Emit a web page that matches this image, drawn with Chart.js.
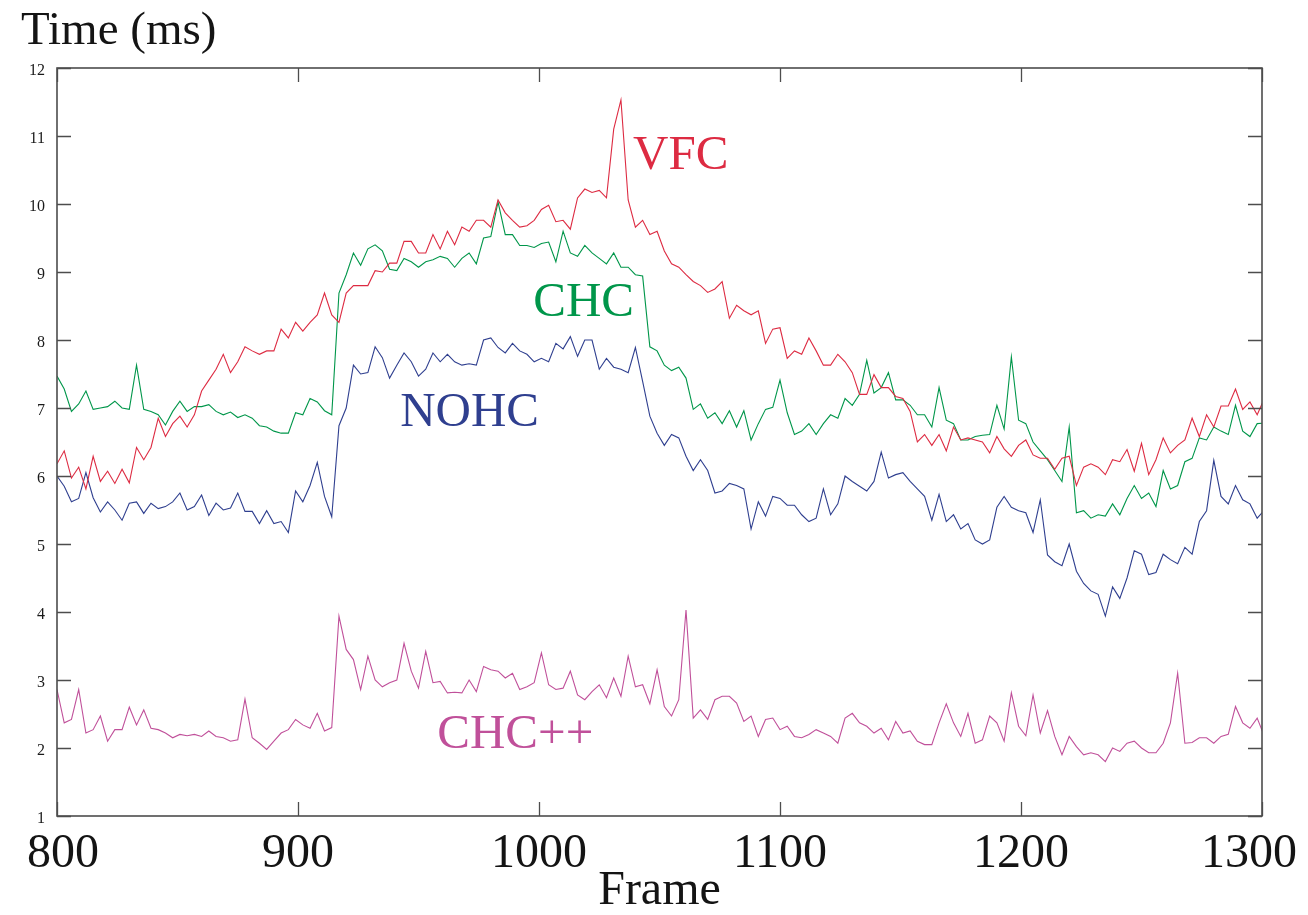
<!DOCTYPE html>
<html>
<head>
<meta charset="utf-8">
<title>Frame times</title>
<script src="https://cdn.jsdelivr.net/npm/chart.js@4.4.1/dist/chart.umd.min.js"></script>
<style>
  html, body { margin: 0; padding: 0; background: #ffffff; }
  #wrap { width: 1308px; height: 915px; position: relative; }
</style>
</head>
<body>
<div id="wrap"><canvas id="chart" width="1308" height="915"></canvas></div>
<script>
// Sampled frame range: one value every FRAME_STEP frames starting at FIRST_FRAME
const FIRST_FRAME = 800;
const FRAME_STEP = 3;

const xTicks = [800, 900, 1000, 1100, 1200, 1300];
const yTicks = [1, 2, 3, 4, 5, 6, 7, 8, 9, 10, 11, 12];

// Render time per frame (ms)
const vfc = [
  6.18, 6.37, 5.97, 6.13, 5.81, 6.29, 5.92, 6.07, 5.89, 6.10,
  5.90, 6.42, 6.24, 6.42, 6.85, 6.58, 6.77, 6.88, 6.72, 6.90,
  7.25, 7.41, 7.57, 7.79, 7.52, 7.68, 7.90, 7.84, 7.79, 7.84,
  7.84, 8.16, 8.03, 8.26, 8.13, 8.26, 8.37, 8.69, 8.37, 8.26,
  8.69, 8.80, 8.80, 8.80, 9.02, 9.00, 9.13, 9.13, 9.45, 9.45,
  9.28, 9.28, 9.55, 9.34, 9.60, 9.40, 9.66, 9.60, 9.76, 9.76,
  9.66, 10.06, 9.87, 9.76, 9.66, 9.68, 9.76, 9.92, 9.98, 9.74,
  9.76, 9.63, 10.09, 10.22, 10.17, 10.20, 10.09, 11.10, 11.53, 10.06,
  9.66, 9.76, 9.55, 9.60, 9.31, 9.12, 9.07, 8.96, 8.86, 8.80,
  8.70, 8.75, 8.86, 8.32, 8.51, 8.43, 8.37, 8.43, 7.95, 8.16,
  8.18, 7.73, 7.84, 7.79, 8.03, 7.84, 7.63, 7.63, 7.79, 7.68,
  7.52, 7.20, 7.20, 7.49, 7.30, 7.30, 7.17, 7.14, 6.95, 6.50,
  6.61, 6.45, 6.61, 6.37, 6.72, 6.53, 6.56, 6.53, 6.50, 6.34,
  6.58, 6.40, 6.29, 6.45, 6.53, 6.31, 6.26, 6.26, 6.10, 6.26,
  6.29, 5.86, 6.13, 6.18, 6.13, 6.02, 6.24, 6.21, 6.39, 6.07,
  6.48, 6.02, 6.24, 6.56, 6.34, 6.45, 6.53, 6.85, 6.58, 6.90,
  6.72, 7.03, 7.03, 7.28, 6.98, 7.09, 6.90, 7.14
];

const chc = [
  7.47, 7.28, 6.95, 7.06, 7.25, 6.98, 7.00, 7.02, 7.10, 7.00,
  6.98, 7.63, 6.98, 6.95, 6.90, 6.75, 6.95, 7.10, 6.95, 7.02,
  7.02, 7.05, 6.95, 6.90, 6.94, 6.86, 6.90, 6.85, 6.74, 6.72,
  6.66, 6.63, 6.63, 6.93, 6.90, 7.14, 7.09, 6.96, 6.90, 8.69,
  8.96, 9.28, 9.10, 9.34, 9.40, 9.31, 9.04, 9.02, 9.20, 9.15,
  9.07, 9.15, 9.18, 9.23, 9.20, 9.07, 9.20, 9.28, 9.12, 9.50,
  9.52, 10.03, 9.55, 9.55, 9.39, 9.39, 9.36, 9.42, 9.44, 9.15,
  9.60, 9.28, 9.23, 9.39, 9.28, 9.20, 9.12, 9.28, 9.07, 9.07,
  8.96, 8.94, 7.90, 7.84, 7.63, 7.55, 7.60, 7.44, 6.98, 7.06,
  6.85, 6.93, 6.77, 6.96, 6.72, 6.96, 6.53, 6.77, 6.98, 7.01,
  7.41, 6.93, 6.61, 6.66, 6.77, 6.61, 6.77, 6.90, 6.85, 7.14,
  7.04, 7.20, 7.70, 7.22, 7.30, 7.52, 7.12, 7.12, 7.04, 6.90,
  6.90, 6.72, 7.30, 6.82, 6.77, 6.53, 6.53, 6.58, 6.60, 6.61,
  7.04, 6.69, 7.75, 6.82, 6.77, 6.50, 6.37, 6.24, 6.08, 5.92,
  6.72, 5.46, 5.49, 5.38, 5.43, 5.41, 5.59, 5.43, 5.67, 5.86,
  5.67, 5.75, 5.55, 6.08, 5.81, 5.86, 6.21, 6.26, 6.56, 6.53,
  6.72, 6.66, 6.61, 7.04, 6.66, 6.58, 6.77, 6.78
];

const nohc = [
  6.00, 5.85, 5.62, 5.67, 6.05, 5.68, 5.47, 5.62, 5.50, 5.35,
  5.60, 5.62, 5.45, 5.60, 5.52, 5.55, 5.62, 5.75, 5.50, 5.55,
  5.72, 5.42, 5.60, 5.50, 5.53, 5.75, 5.48, 5.48, 5.30, 5.49,
  5.30, 5.33, 5.17, 5.78, 5.62, 5.86, 6.20, 5.70, 5.40, 6.74,
  7.00, 7.63, 7.50, 7.52, 7.90, 7.74, 7.44, 7.63, 7.81, 7.68,
  7.47, 7.57, 7.81, 7.68, 7.79, 7.68, 7.63, 7.65, 7.63, 8.00,
  8.03, 7.89, 7.81, 7.95, 7.84, 7.79, 7.68, 7.73, 7.68, 7.95,
  7.87, 8.05, 7.76, 8.00, 8.00, 7.57, 7.73, 7.60, 7.57, 7.52,
  7.89, 7.39, 6.88, 6.63, 6.45, 6.61, 6.56, 6.29, 6.08, 6.24,
  6.08, 5.75, 5.78, 5.89, 5.86, 5.81, 5.22, 5.62, 5.41, 5.70,
  5.67, 5.57, 5.57, 5.43, 5.33, 5.38, 5.81, 5.43, 5.59, 6.00,
  5.92, 5.85, 5.78, 5.92, 6.35, 5.97, 6.02, 6.05, 5.92, 5.81,
  5.70, 5.35, 5.73, 5.33, 5.43, 5.22, 5.30, 5.06, 5.00, 5.06,
  5.54, 5.70, 5.54, 5.49, 5.46, 5.17, 5.65, 4.84, 4.74, 4.68,
  5.00, 4.60, 4.42, 4.31, 4.26, 3.94, 4.37, 4.20, 4.50, 4.90,
  4.85, 4.55, 4.58, 4.85, 4.77, 4.71, 4.95, 4.85, 5.33, 5.49,
  6.23, 5.70, 5.59, 5.86, 5.65, 5.59, 5.38, 5.50
];

const chcpp = [
  2.86, 2.37, 2.42, 2.86, 2.22, 2.27, 2.47, 2.10, 2.27, 2.27,
  2.60, 2.34, 2.56, 2.29, 2.27, 2.22, 2.15, 2.20, 2.18, 2.20,
  2.17, 2.25, 2.17, 2.15, 2.10, 2.12, 2.72, 2.15, 2.07, 1.98,
  2.10, 2.22, 2.27, 2.42, 2.34, 2.29, 2.51, 2.25, 2.30, 3.94,
  3.45, 3.30, 2.86, 3.35, 3.00, 2.90, 2.96, 3.00, 3.54, 3.13,
  2.88, 3.42, 2.96, 2.98, 2.81, 2.82, 2.81, 3.00, 2.83, 3.20,
  3.15, 3.13, 3.03, 3.10, 2.86, 2.90, 2.96, 3.40, 2.93, 2.86,
  2.88, 3.13, 2.78, 2.71, 2.83, 2.93, 2.74, 3.03, 2.76, 3.35,
  2.90, 2.93, 2.65, 3.15, 2.61, 2.47, 2.71, 4.03, 2.44, 2.56,
  2.42, 2.71, 2.76, 2.76, 2.66, 2.39, 2.47, 2.17, 2.42, 2.44,
  2.27, 2.32, 2.17, 2.15, 2.20, 2.27, 2.22, 2.17, 2.07, 2.44,
  2.51, 2.37, 2.32, 2.22, 2.29, 2.12, 2.39, 2.22, 2.25, 2.10,
  2.05, 2.05, 2.37, 2.65, 2.37, 2.17, 2.51, 2.07, 2.12, 2.47,
  2.37, 2.10, 2.81, 2.32, 2.18, 2.78, 2.22, 2.55, 2.17, 1.90,
  2.17, 2.02, 1.90, 1.93, 1.90, 1.80, 2.00, 1.95, 2.07, 2.10,
  2.00, 1.93, 1.93, 2.07, 2.37, 3.10, 2.07, 2.08, 2.15, 2.15,
  2.07, 2.17, 2.20, 2.61, 2.37, 2.29, 2.44, 2.17
];

const SERIF = '"Liberation Serif", "Times New Roman", "DejaVu Serif", serif';

const COLORS = {
  vfc: '#dd2b42',
  chc: '#00964a',
  nohc: '#2f3f8f',
  chcpp: '#c0509a'
};

// In-plot series names, anchored in data coordinates (frame, ms)
const seriesNames = [
  { text: 'VFC',   color: COLORS.vfc,   frame: 1039.0, ms: 10.52 },
  { text: 'CHC',   color: COLORS.chc,   frame: 997.6,  ms: 8.35 },
  { text: 'NOHC',  color: COLORS.nohc,  frame: 942.4,  ms: 6.74 },
  { text: 'CHC++', color: COLORS.chcpp, frame: 957.8,  ms: 2.00 }
];

function toPoints(values) {
  return values.map((v, i) => ({ x: FIRST_FRAME + i * FRAME_STEP, y: v }));
}

function lineSet(label, values, color) {
  return {
    label: label,
    data: toPoints(values),
    borderColor: color,
    backgroundColor: color,
    borderWidth: 1.1,
    pointRadius: 0,
    pointHoverRadius: 0,
    tension: 0,
    fill: false
  };
}

// Box frame, inward tick marks on all four sides, and the large serif texts
const frameDecor = {
  id: 'frameDecor',
  afterDraw(chart) {
    const { ctx, chartArea: a, scales: { x, y } } = chart;
    ctx.save();

    ctx.strokeStyle = '#4d4d4d';
    ctx.lineWidth = 1.6;
    ctx.strokeRect(a.left, a.top, a.right - a.left, a.bottom - a.top);

    ctx.lineWidth = 1.3;
    ctx.beginPath();
    xTicks.forEach(v => {
      const px = Math.round(x.getPixelForValue(v)) + 0.5;
      ctx.moveTo(px, a.bottom); ctx.lineTo(px, a.bottom - 14);
      ctx.moveTo(px, a.top);    ctx.lineTo(px, a.top + 14);
    });
    yTicks.forEach(v => {
      const py = Math.round(y.getPixelForValue(v)) + 0.5;
      ctx.moveTo(a.left, py);  ctx.lineTo(a.left + 14, py);
      ctx.moveTo(a.right, py); ctx.lineTo(a.right - 14, py);
    });
    ctx.stroke();

    // frame-number labels under the axis, kept inside the figure edges
    ctx.fillStyle = '#141414';
    ctx.textBaseline = 'alphabetic';
    ctx.textAlign = 'left';
    ctx.font = '48px ' + SERIF;
    xTicks.forEach(v => {
      const label = String(v);
      const w = ctx.measureText(label).width;
      let left = x.getPixelForValue(v) - w / 2;
      left = Math.max(27, Math.min(left, chart.width - 11 - w));
      ctx.fillText(label, left, 867);
    });

    // axis titles
    ctx.font = '47px ' + SERIF;
    ctx.fillText('Time (ms)', 21, 44);
    ctx.textAlign = 'center';
    ctx.font = '48px ' + SERIF;
    ctx.fillText('Frame', (a.left + a.right) / 2, 904);

    // series names next to their curves
    ctx.textAlign = 'left';
    ctx.font = '49px ' + SERIF;
    seriesNames.forEach(s => {
      ctx.fillStyle = s.color;
      ctx.fillText(s.text, x.getPixelForValue(s.frame), y.getPixelForValue(s.ms));
    });

    ctx.restore();
  }
};

new Chart(document.getElementById('chart'), {
  type: 'line',
  data: {
    datasets: [
      lineSet('VFC', vfc, COLORS.vfc),
      lineSet('CHC', chc, COLORS.chc),
      lineSet('NOHC', nohc, COLORS.nohc),
      lineSet('CHC++', chcpp, COLORS.chcpp)
    ]
  },
  options: {
    responsive: false,
    animation: false,
    devicePixelRatio: 1,
    layout: { padding: { top: 68, right: 46, bottom: 0, left: 0 } },
    plugins: {
      legend: { display: false },
      tooltip: { enabled: false },
      title: { display: false }
    },
    elements: { line: { borderJoinStyle: 'miter' } },
    scales: {
      x: {
        type: 'linear',
        min: 800,
        max: 1300,
        ticks: { display: false },
        grid: { display: false, drawTicks: false },
        border: { display: false },
        afterFit(scale) {
          scale.height = 99;
          scale.paddingLeft = 0;
          scale.paddingRight = 0;
        }
      },
      y: {
        type: 'linear',
        min: 1,
        max: 12,
        afterBuildTicks(scale) {
          scale.ticks = yTicks.map(v => ({ value: v }));
        },
        ticks: {
          color: '#1a1a1a',
          padding: 12,
          labelOffset: 3,
          font: { family: SERIF, size: 16 }
        },
        grid: { display: false, drawTicks: false },
        border: { display: false },
        afterFit(scale) {
          scale.width = 57;
        }
      }
    }
  },
  plugins: [frameDecor]
});
</script>
</body>
</html>
